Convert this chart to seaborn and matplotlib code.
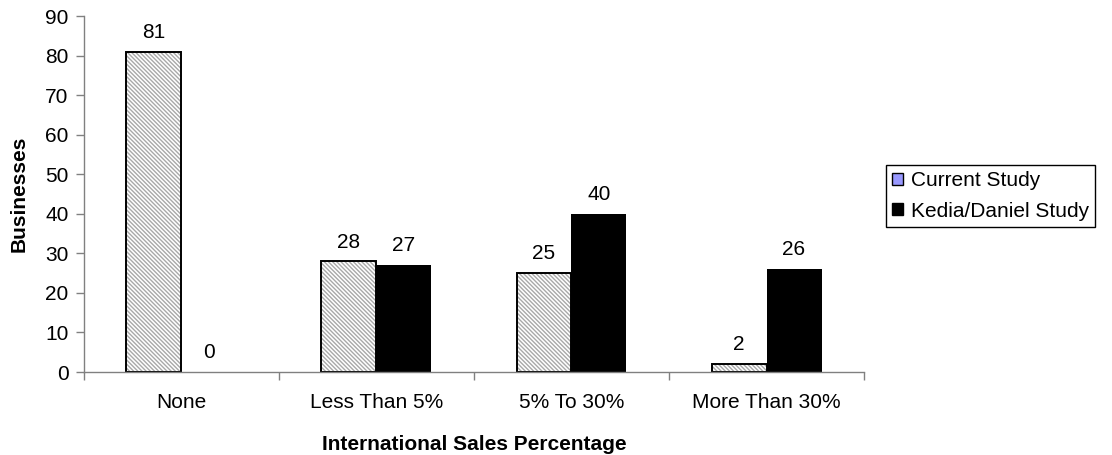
import matplotlib
matplotlib.use("Agg")
import matplotlib.pyplot as plt
from matplotlib.patches import Patch, Rectangle
from matplotlib.ticker import FixedLocator
import seaborn as sns
import pandas as pd

categories = ["None", "Less Than 5%", "5% To 30%", "More Than 30%"]
series_names = ["Current Study", "Kedia/Daniel Study"]
current_study = [81, 28, 25, 2]
kedia_daniel_study = [0, 27, 40, 26]
y_ticks = [0, 10, 20, 30, 40, 50, 60, 70, 80, 90]

df = pd.DataFrame({
    "Category": categories * 2,
    "Study": [series_names[0]] * len(categories) + [series_names[1]] * len(categories),
    "Businesses": current_study + kedia_daniel_study,
})

sns.set_theme(style="ticks")
plt.rcParams["font.family"] = ["Liberation Sans", "DejaVu Sans"]
plt.rcParams["hatch.linewidth"] = 1.0
plt.rcParams["text.color"] = "black"
plt.rcParams["axes.labelcolor"] = "black"

FS = 15

fig = plt.figure(figsize=(11.12, 4.55), dpi=100)
ax = fig.add_axes([0.0755, 0.1824, 0.7015, 0.7824])

sns.barplot(data=df, x="Category", y="Businesses", hue="Study",
            order=categories, hue_order=series_names,
            palette=["white", "black"], width=0.564, gap=0,
            dodge=True, legend=False, ax=ax, errorbar=None)

n = len(categories)
bars = [p for p in ax.patches if isinstance(p, Rectangle)]
current_bars = bars[:n]
kedia_bars = bars[n:]

# hatched bars: grey hatch fill with a separate black outline
for p in current_bars:
    p.set_facecolor("white")
    p.set_hatch("\\\\\\\\\\\\\\\\")
    p.set_edgecolor("#a8a8a8")
    p.set_linewidth(0)
    ax.add_patch(Rectangle(p.get_xy(), p.get_width(), p.get_height(),
                           fill=False, edgecolor="black", linewidth=1.4,
                           zorder=p.get_zorder() + 0.1))
for p in kedia_bars:
    p.set_facecolor("black")
    p.set_linewidth(0)

# value labels above each bar
for p, v in list(zip(current_bars, current_study)) + list(zip(kedia_bars, kedia_daniel_study)):
    ax.annotate(f"{v}", (p.get_x() + p.get_width() / 2, v),
                xytext=(0, 7), textcoords="offset points",
                ha="center", va="bottom", fontsize=FS, color="black")

ax.set_xlim(-0.5, n - 0.5)
ax.set_ylim(0, 90)
ax.set_yticks(y_ticks)
ax.set_yticklabels([str(t) for t in y_ticks], fontsize=FS)
ax.set_xticks(range(n))
ax.set_xticklabels(categories, fontsize=FS)
ax.xaxis.set_minor_locator(FixedLocator([i - 0.5 for i in range(n + 1)]))
ax.tick_params(axis="x", which="major", length=0, pad=15, labelcolor="black")
ax.tick_params(axis="x", which="minor", length=6, width=1, color="#808080", direction="out")
ax.tick_params(axis="y", length=6, width=1, color="#808080", direction="out",
               pad=5, labelcolor="black")

for side in ["top", "right"]:
    ax.spines[side].set_visible(False)
for side in ["left", "bottom"]:
    ax.spines[side].set_color("#808080")
    ax.spines[side].set_linewidth(1.0)

ax.set_xlabel("International Sales Percentage", fontsize=FS, fontweight="bold", labelpad=17)
ax.set_ylabel("Businesses", fontsize=FS, fontweight="bold", labelpad=12)

handles = [Patch(facecolor="#9999ff", edgecolor="black", linewidth=1.0),
           Patch(facecolor="black", edgecolor="black", linewidth=1.0)]
leg = fig.legend(handles, series_names, loc="upper left",
                 bbox_to_anchor=(886 / 1112, 1 - 165 / 455),
                 bbox_transform=fig.transFigure, borderaxespad=0,
                 fontsize=FS, handlelength=0.5, handleheight=0.5,
                 handletextpad=0.4, labelspacing=0.55, borderpad=0.3,
                 fancybox=False, framealpha=1, edgecolor="black")
leg.get_frame().set_linewidth(1.0)

fig.savefig("out.png", dpi=100)
